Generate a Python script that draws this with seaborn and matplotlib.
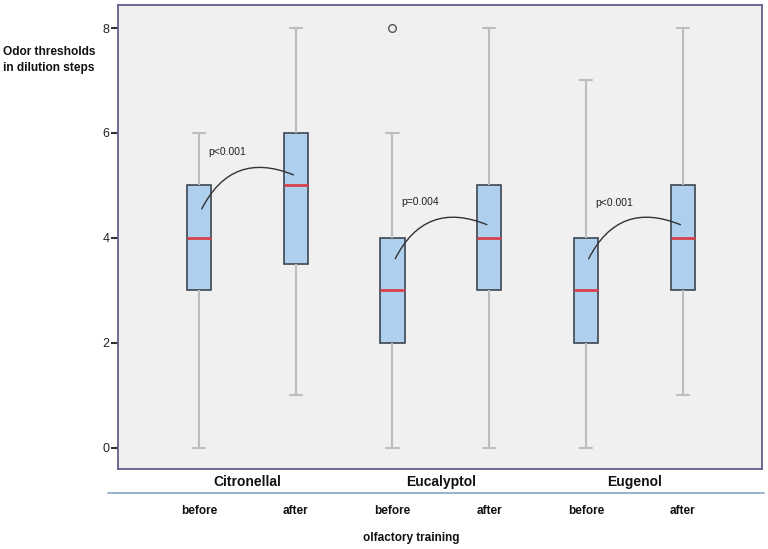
import numpy as np
import pandas as pd
import matplotlib
matplotlib.use('Agg')
import matplotlib.pyplot as plt
import matplotlib.transforms as mtransforms
from matplotlib.lines import Line2D
import seaborn as sns

# ---- data (five-number summaries per group) ----
compounds = ['Citronellal', 'Eucalyptol', 'Eugenol']
times = ['before', 'after']

# order: Citronellal before/after, Eucalyptol before/after, Eugenol before/after
whisker_lo = [0, 1, 0, 0, 0, 1]
q1 = [3, 3.5, 2, 3, 2, 3]
median = [4, 5, 3, 4, 3, 4]
q3 = [5, 6, 4, 5, 4, 5]
whisker_hi = [6, 8, 6, 8, 7, 8]

# outliers: (compound, time, value)
outliers = [('Eucalyptol', 'before', 8)]

# p-values and the arc ends (before value, after value)
p_labels = ['p<0.001', 'p=0.004', 'p<0.001']
arc_start = [4.55, 3.60, 3.60]
arc_end = [5.20, 4.25, 4.25]
p_text_y = [5.64, 4.68, 4.66]

rows = []
k = 0
for c in compounds:
    for t in times:
        for v in (whisker_lo[k], q1[k], median[k], q3[k], whisker_hi[k]):
            rows.append({'compound': c, 'time': t, 'value': v})
        k += 1
df = pd.DataFrame(rows)

# ---- style ----
sns.set_theme(style='white')
plt.rcParams['font.family'] = ['Liberation Sans', 'DejaVu Sans']

box_fill = '#aecfee'
edge_col = '#3c4650'
whisk_col = '#bdbdbd'
med_col = '#d9404d'
spine_col = '#5f5f8f'

fig = plt.figure(figsize=(7.68, 5.49), dpi=100)
ax = fig.add_axes([0.1536, 0.1457, 0.8386, 0.8452])
ax.set_facecolor('#f0f0f0')

sns.boxplot(data=df, x='compound', y='value', hue='time',
            order=compounds, hue_order=times,
            palette={'before': box_fill, 'after': box_fill}, saturation=1,
            width=1.0, gap=0.75, whis=(0, 100), linecolor=edge_col,
            linewidth=1.2, legend=False, ax=ax,
            whiskerprops={'color': whisk_col, 'linewidth': 1.5},
            capprops={'color': whisk_col, 'linewidth': 1.5},
            medianprops={'color': med_col, 'linewidth': 2})

# dodge offsets used by seaborn for width=1.0 with two hue levels
offset = {'before': -0.25, 'after': 0.25}

for c, t, v in outliers:
    ax.plot(compounds.index(c) + offset[t], v, 'o', ms=5.5, mfc='none',
            mec='#555555', mew=1)

for i, c in enumerate(compounds):
    xs = i + offset['before'] + 0.014
    xe = i + offset['after'] - 0.012
    ax.annotate('', xy=(xe, arc_end[i]), xytext=(xs, arc_start[i]),
                arrowprops=dict(arrowstyle='-', color='#333333', lw=1,
                                shrinkA=0, shrinkB=0,
                                connectionstyle='arc3,rad=-0.46'))
    ax.text(i - 0.203, p_text_y[i], p_labels[i], fontsize=7.5,
            color='#222222', va='center', ha='left')

ax.set_xlim(-0.669, 2.66)
ax.set_ylim(-0.41, 8.44)
ax.set_yticks([0, 2, 4, 6, 8])
ax.set_xlabel('')
ax.set_ylabel('')
ax.tick_params(axis='y', left=True, length=5, width=1.5, color='#333333',
               labelsize=9, labelcolor='#222222', pad=1)
ax.tick_params(axis='x', length=0, pad=4, labelsize=10)
for lab in ax.get_xticklabels():
    lab.set_fontweight('bold')
    lab.set_color('#111111')
for s in ax.spines.values():
    s.set_color(spine_col)
    s.set_linewidth(1.3)

# y label at top left
fig.text(3 / 768, 1 - 46 / 549, 'Odor thresholds\nin dilution steps',
         fontsize=8.6, fontweight='bold', ha='left', va='top',
         linespacing=1.5, color='#111111')

# separator line under compound names
fig.add_artist(Line2D([108 / 768, 764 / 768], [1 - 493 / 549, 1 - 493 / 549],
                      color='#86a3c6', lw=1.2, transform=fig.transFigure))

trans = mtransforms.blended_transform_factory(ax.transData, fig.transFigure)
for i, c in enumerate(compounds):
    for t in times:
        ax.text(i + offset[t], 1 - 511 / 549, t, transform=trans,
                ha='center', va='center', fontsize=8.5, fontweight='bold',
                color='#111111')

fig.text(411 / 768, 1 - 538 / 549, 'olfactory training', ha='center',
         va='center', fontsize=8.5, fontweight='bold', color='#111111')

fig.savefig('out.png', dpi=100)
